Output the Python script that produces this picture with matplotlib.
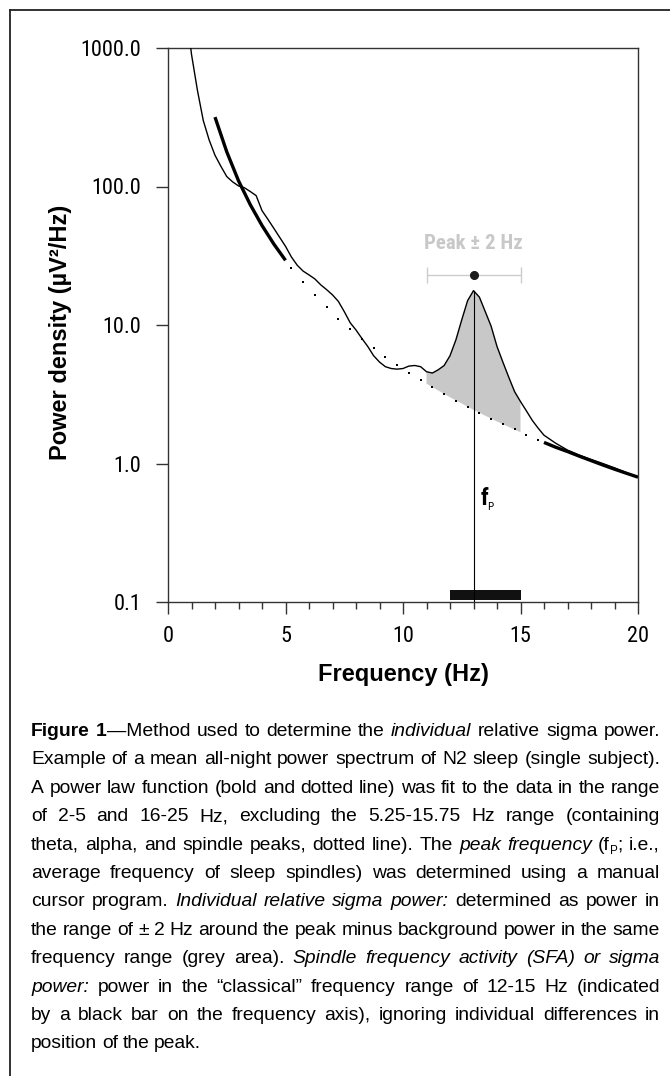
import numpy as np
import matplotlib
matplotlib.use('Agg')
import matplotlib.pyplot as plt
from matplotlib import font_manager
from matplotlib.ticker import MultipleLocator, NullLocator
from matplotlib.lines import Line2D

# narrow Arial-like font for ticks, whatever is installed
fonts = font_manager.fontManager.ttflist
narrow_list = ['Liberation Sans Narrow', 'Arial Narrow', 'Roboto Condensed', 'Archivo Narrow',
               'IBM Plex Sans Condensed', 'PT Sans Narrow', 'Fira Sans Condensed',
               'Asap Condensed', 'Barlow Semi Condensed']


def pick(need_bold=False):
    for fam in narrow_list:
        fs = [f for f in fonts if f.name == fam]
        if not fs:
            continue
        if need_bold and not any(f.weight in (700, 'bold') for f in fs):
            continue
        return fam
    return 'Liberation Sans'


NARROW = pick()
NARROW_B = pick(need_bold=True)
WIDE = 'Liberation Sans'

# mean all-night N2 power spectrum
freq = [0.9, 1.0, 1.25, 1.5, 1.75, 2.0, 2.25, 2.5, 2.75, 3.0, 3.25, 3.5, 3.75, 4.0,
        4.25, 4.5, 4.75, 5.0, 5.25, 5.5, 5.75, 6.0, 6.25, 6.5, 6.75, 7.0, 7.25, 7.5,
        7.75, 8.0, 8.25, 8.5, 8.75, 9.0, 9.25, 9.5, 9.75, 10.0, 10.25, 10.5, 10.75,
        11.0, 11.25, 11.5, 11.75, 12.0, 12.25, 12.5, 12.75, 13.0, 13.25, 13.5, 13.75,
        14.0, 14.25, 14.5, 14.75, 15.0, 15.25, 15.5, 15.75, 16.0, 16.5, 17.0, 17.5,
        18.0, 18.5, 19.0, 19.5, 20.0]
power = [1250, 900, 497, 300, 217, 168, 140, 118, 108, 101, 98, 92, 86, 67,
         58, 50, 43, 37, 31, 27, 24.5, 23, 21.5, 19.5, 18, 16.5, 14.8, 12.5,
         10.4, 9.2, 8.0, 7.0, 6.0, 5.4, 5.0, 4.85, 4.8, 4.85, 5.05, 5.1, 5.0,
         4.6, 4.5, 4.75, 5.1, 6.0, 7.8, 10.9, 15.0, 17.7, 15.9, 12.5, 9.8,
         7.0, 5.4, 4.2, 3.3, 2.8, 2.4, 2.05, 1.8, 1.6, 1.4, 1.25, 1.15,
         1.07, 1.0, 0.93, 0.86, 0.80]

# power law fit: bold parts (2-5 Hz, 16-20 Hz)
fit_lo_freq = [2.0, 2.5, 3.0, 3.5, 4.0, 4.5, 5.0]
fit_lo_pow = [317, 178, 110, 74, 52.3, 38.5, 29.3]
fit_hi_freq = [16.0, 16.5, 17.0, 17.5, 18.0, 18.5, 19.0, 19.5, 20.0]
fit_hi_pow = [1.42, 1.31, 1.22, 1.13, 1.05, 0.976, 0.91, 0.851, 0.797]

# power law fit: dotted part (5.25-15.75 Hz)
dot_freq = [5.25, 5.75, 6.25, 6.75, 7.25, 7.75, 8.25, 8.75, 9.25, 9.75, 10.25,
            10.75, 11.25, 11.75, 12.25, 12.75, 13.25, 13.75, 14.25, 14.75, 15.25, 15.75]
dot_pow = [25.8, 20.4, 16.4, 13.4, 11.1, 9.37, 7.96, 6.84, 5.92, 5.16, 4.53,
           4.00, 3.56, 3.18, 2.85, 2.57, 2.32, 2.11, 1.92, 1.76, 1.61, 1.48]

# background under the peak (fit) for the grey area
fill_freq = [11.0, 12.0, 13.0, 14.0, 15.0]
fill_base = [3.77, 3.01, 2.44, 2.01, 1.68]

peak_freq = 13.0
peak_pow = 17.7
marker_pow = 23.0
half_width = 2.0
sfa_band = [12.0, 15.0]

yticks = [0.1, 1, 10, 100, 1000]
ytick_labels = ['0.1', '1.0', '10.0', '100.0', '1000.0']
xticks = [0, 5, 10, 15, 20]

W, H = 670, 1076
fig = plt.figure(figsize=(W / 100, H / 100), dpi=100)


def fx(px):
    return px / W


def fy(py):
    return 1 - py / H


# outer frame (top and left only)
fig.add_artist(Line2D([fx(10), fx(10)], [fy(10), fy(H + 2)], color='#222222', lw=1.3))
fig.add_artist(Line2D([fx(10), fx(W + 2)], [fy(10), fy(10)], color='#222222', lw=1.3))

ax = fig.add_axes([fx(168), fy(602), fx(638) - fx(168), fy(48) - fy(602)])
ax.set_yscale('log')
ax.set_xlim(0, 20)
ax.set_ylim(0.1, 1000)

# grey area: spectrum above the fit, 11-15 Hz
sel = [i for i, f in enumerate(freq) if 11.0 <= f <= 15.0]
poly_x = [freq[i] for i in sel] + fill_freq[::-1]
poly_y = [power[i] for i in sel] + fill_base[::-1]
ax.fill(poly_x, poly_y, color='#c8c8c8', lw=0, zorder=1)

# spectrum
ax.plot(freq, power, color='black', lw=1.0, zorder=3)

# fit
ax.plot(fit_lo_freq, fit_lo_pow, color='black', lw=2.4, solid_capstyle='butt', zorder=4)
ax.plot(fit_hi_freq, fit_hi_pow, color='black', lw=2.4, solid_capstyle='butt', zorder=4)
ax.plot(dot_freq, dot_pow, ls='none', marker='s', ms=1.6, color='black', mew=0, zorder=4)

# peak frequency line
ax.plot([peak_freq, peak_freq], [0.1, peak_pow], color='black', lw=0.8, zorder=3)

# peak +- 2 Hz
ax.errorbar(peak_freq, marker_pow, xerr=half_width, fmt='o', ms=5.5, color='#1a1a1a',
            ecolor='#cccccc', elinewidth=1.0, capsize=5.8, capthick=1.0, zorder=5)
ax.text(peak_freq, 38.5, 'Peak ± 2 Hz', ha='center', va='center', color='#c8c8c8',
        fontsize=15, fontweight='bold', family=NARROW_B)

# f_P label
ax.text(13.31, 0.50, 'f', ha='left', va='baseline', fontsize=17, fontweight='bold',
        family=NARROW_B)
ax.text(13.57, 0.46, 'P', ha='left', va='baseline', fontsize=8, family=NARROW)

# classical sigma band
ax.axvspan(sfa_band[0], sfa_band[1], ymin=0.003, ymax=0.022, color='#111111', lw=0, zorder=2)

# axes styling
for s in ax.spines.values():
    s.set_color('#333333')
    s.set_linewidth(1.0)
ax.set_yticks(yticks, ytick_labels)
ax.yaxis.set_minor_locator(NullLocator())
ax.set_xticks(xticks)
ax.xaxis.set_minor_locator(MultipleLocator(1))
ax.tick_params(axis='y', direction='out', length=8.4, width=1, pad=11, labelsize=16,
               color='#333333')
ax.tick_params(axis='x', which='major', direction='out', length=8.4, width=1, pad=9,
               labelsize=16, color='#333333')
ax.tick_params(axis='x', which='minor', direction='out', length=4.8, width=1, color='#333333')
for lab in ax.get_xticklabels() + ax.get_yticklabels():
    lab.set_family(NARROW)

fig.text(fx(61), fy(332), 'Power density (µV²/Hz)', rotation=90, ha='center', va='center',
         fontsize=17, fontweight='bold', family=WIDE)
fig.text(fx(403), fy(675), 'Frequency (Hz)', ha='center', va='center',
         fontsize=17, fontweight='bold', family=WIDE)

# caption, justified
N, B, I, S = 'n', 'b', 'i', 's'
caption = [
    [('Figure 1', B), ('—Method used to determine the ', N), ('individual', I),
     (' relative sigma power.', N)],
    [('Example of a mean all-night power spectrum of N2 sleep (single subject).', N)],
    [('A power law function (bold and dotted line) was fit to the data in the range', N)],
    [('of 2-5 and 16-25 Hz, excluding the 5.25-15.75 Hz range (containing', N)],
    [('theta, alpha, and spindle peaks, dotted line). The ', N), ('peak frequency', I),
     (' (f', N), ('P', S), ('; i.e.,', N)],
    [('average frequency of sleep spindles) was determined using a manual', N)],
    [('cursor program. ', N), ('Individual relative sigma power:', I),
     (' determined as power in', N)],
    [('the range of ± 2 Hz around the peak minus background power in the same', N)],
    [('frequency range (grey area). ', N), ('Spindle frequency activity (SFA) or sigma', I)],
    [('power:', I), (' power in the “classical” frequency range of 12-15 Hz (indicated', N)],
    [('by a black bar on the frequency axis), ignoring individual differences in', N)],
    [('position of the peak.', N)],
]
cap_fs = 13.9
styles = {
    N: dict(family=WIDE, fontsize=cap_fs),
    B: dict(family=WIDE, fontsize=cap_fs, fontweight='bold'),
    I: dict(family=WIDE, fontsize=cap_fs, style='italic'),
    S: dict(family=WIDE, fontsize=cap_fs * 0.6),
}


def split_words(runs):
    words = [[]]
    for txt, st in runs:
        parts = txt.split(' ')
        for k, p in enumerate(parts):
            if k > 0:
                words.append([])
            if p:
                words[-1].append((p, st))
    return [w for w in words if w]


renderer = fig.canvas.get_renderer()
x_left, x_right = 31, 660
base0, step = 736, 28.4
space_nat = 4.8
for li, runs in enumerate(caption):
    words = split_words(runs)
    base = base0 + li * step
    placed = []
    total = 0.0
    for w in words:
        pieces = []
        for txt, st in w:
            t = fig.text(0, 0, txt, ha='left', va='baseline', **styles[st])
            wd = t.get_window_extent(renderer).width
            pieces.append((t, st, wd))
            total += wd
        placed.append(pieces)
    if li < len(caption) - 1 and len(words) > 1:
        gap = (x_right - x_left - total) / (len(words) - 1)
    else:
        gap = space_nat
    x = x_left
    for pieces in placed:
        for t, st, wd in pieces:
            dy = 4 if st == S else 0
            t.set_position((fx(x), fy(base + dy)))
            x += wd
        x += gap

fig.savefig('out.png', dpi=100)
